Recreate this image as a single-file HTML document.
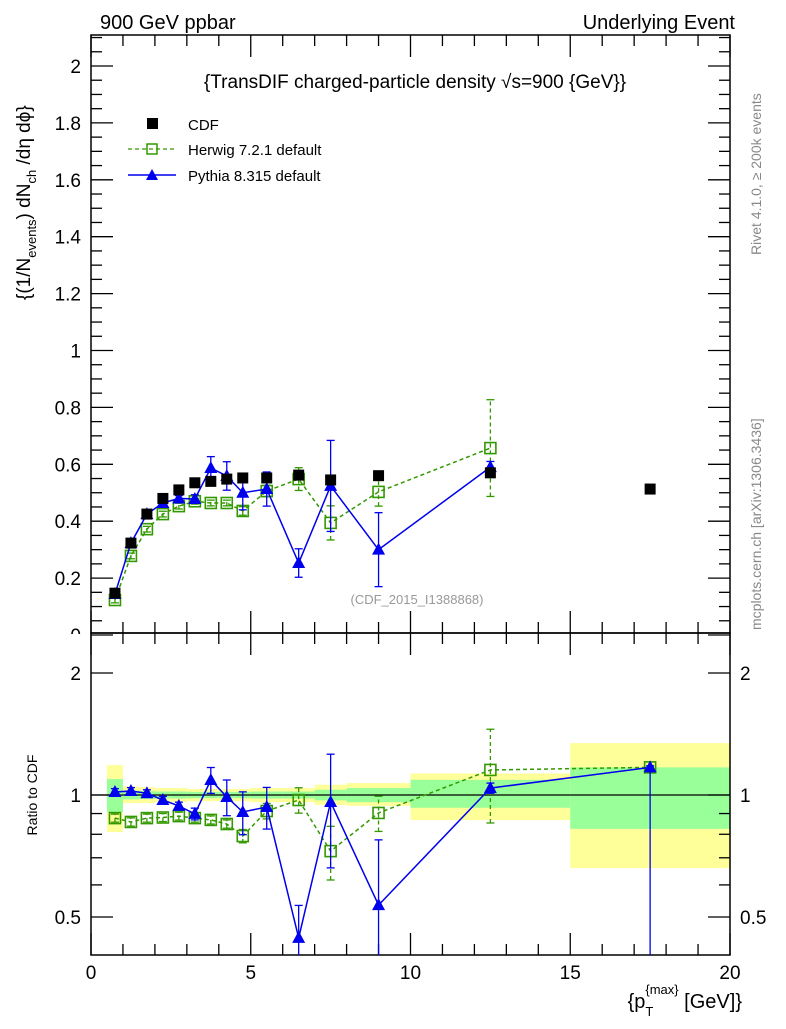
<!DOCTYPE html>
<html><head><meta charset="utf-8"><style>
body{margin:0;background:#fff;width:786px;height:1024px;overflow:hidden;font-family:"Liberation Sans",sans-serif}
svg text{font-family:"Liberation Sans","DejaVu Sans",sans-serif}
</style></head><body>
<svg id="c" width="786" height="1024" viewBox="0 0 786 1024" xmlns="http://www.w3.org/2000/svg">
<text x="100" y="29" font-size="20">900 GeV ppbar</text>
<text x="735" y="29" font-size="20" text-anchor="end">Underlying Event</text>
<text x="415" y="88" font-size="19" text-anchor="middle">{TransDIF charged-particle density √s=900 {GeV}}</text>
<text transform="translate(30,300) rotate(-90)" font-size="19">{(1/N<tspan font-size="13" dy="6">events</tspan><tspan dy="-6">) dN</tspan><tspan font-size="13" dy="6">ch</tspan><tspan dy="-6"> /dη  dϕ}</tspan></text>
<text transform="translate(37,795) rotate(-90)" font-size="14" text-anchor="middle">Ratio to CDF</text>
<text x="742" y="1008" font-size="20" text-anchor="end">{p<tspan font-size="13" dy="8">T</tspan><tspan font-size="13" dy="-22" dx="-8">{max}</tspan><tspan dy="14"> [GeV]}</tspan></text>
<text transform="translate(761,255) rotate(-90)" font-size="14" fill="#888">Rivet 4.1.0, ≥ 200k events</text>
<text transform="translate(761,630) rotate(-90)" font-size="14" fill="#888">mcplots.cern.ch [arXiv:1306.3436]</text>
<text x="417" y="604" font-size="13" fill="#999" text-anchor="middle">(CDF_2015_I1388868)</text>
<g id="legend">
<rect x="147" y="118" width="11" height="11" fill="#000"/>
<text x="188" y="130" font-size="15">CDF</text>
<line x1="128" y1="149" x2="176" y2="149" stroke="#339900" stroke-width="1.3" stroke-dasharray="4,3"/>
<rect x="147" y="144" width="10" height="10" fill="none" stroke="#339900" stroke-width="1.5"/>
<text x="188" y="155" font-size="15">Herwig 7.2.1 default</text>
<line x1="128" y1="175" x2="176" y2="175" stroke="#0000ee" stroke-width="1.5"/>
<path d="M152,169 L158,180 L146,180 Z" fill="#0000ee"/>
<text x="188" y="181" font-size="15">Pythia 8.315 default</text>
</g>
</svg>
<script>
const xs=[0.75,1.25,1.75,2.25,2.75,3.25,3.75,4.25,4.75,5.5,6.5,7.5,9,12.5,17.5];
const edges=[0.5,1,1.5,2,2.5,3,3.5,4,4.5,5,6,7,8,10,15,20];
const cdf=[0.147,0.323,0.425,0.48,0.51,0.535,0.54,0.548,0.552,0.552,0.562,0.545,0.56,0.57,0.513];
const herwig=[0.123,0.278,0.372,0.425,0.453,0.47,0.464,0.464,0.436,0.506,0.548,0.394,0.503,0.657];
const herwigErr=[0.01,0.01,0.01,0.01,0.01,0.01,0.01,0.01,0.015,0.02,0.04,0.06,0.05,0.17];
const pythia=[0.144,0.323,0.425,0.464,0.48,0.478,0.587,0.559,0.5,0.513,0.253,0.524,0.30,0.59];
const pythiaErr=[0.01,0.01,0.01,0.01,0.01,0.015,0.04,0.05,0.06,0.06,0.05,0.16,0.13,0.02];
const herwigRatio=[0.877,0.858,0.877,0.88,0.887,0.877,0.868,0.848,0.792,0.913,0.972,0.727,0.903,1.153,1.17];
const herwigRatioErr=[0.02,0.02,0.02,0.02,0.02,0.02,0.02,0.02,0.03,0.04,0.07,0.11,0.09,0.3,0.01];
const pythiaRatio=[1.017,1.023,1.01,0.972,0.94,0.898,1.089,0.989,0.908,0.934,0.444,0.961,0.535,1.04,1.17];
const pythiaRatioErr=[0.02,0.02,0.02,0.02,0.02,0.03,0.08,0.1,0.11,0.11,0.09,0.3,0.24,0.03,0.9];
const pythiaRatioErrUp=[0.02,0.02,0.02,0.02,0.02,0.03,0.08,0.1,0.11,0.11,0.09,0.3,0.24,0.03,0.01];
const bandYellowHi=[1.185,1.05,1.045,1.04,1.04,1.035,1.035,1.035,1.035,1.04,1.04,1.06,1.07,1.13,1.343];
const bandYellowLo=[0.81,0.955,0.955,0.96,0.96,0.965,0.965,0.965,0.965,0.96,0.96,0.945,0.94,0.867,0.66];
const bandGreenHi=[1.095,1.025,1.022,1.02,1.02,1.018,1.018,1.018,1.018,1.02,1.02,1.03,1.04,1.09,1.17];
const bandGreenLo=[0.908,0.975,0.978,0.98,0.98,0.982,0.982,0.982,0.982,0.98,0.98,0.97,0.96,0.93,0.825];
const mainTicks=[0,0.2,0.4,0.6,0.8,1,1.2,1.4,1.6,1.8,2];
const mainTickLabels=["0","0.2","0.4","0.6","0.8","1","1.2","1.4","1.6","1.8","2"];
const xTicks=[0,5,10,15,20];
const xTickLabels=["0","5","10","15","20"];
const ratioTicks=[0.5,1,2];
const ratioTickLabels=["0.5","1","2"];

const svg=document.getElementById('c');
const NS='http://www.w3.org/2000/svg';
const L=91,R=730,T1=35,B1=633,B2=955;
const X=v=>L+(v/20)*(R-L);
const Y=v=>635-v*284.5;
const YR=v=>795-122*Math.log2(v);
function mk(tag,attrs,parent){const e=document.createElementNS(NS,tag);for(const k in attrs)e.setAttribute(k,attrs[k]);(parent||svg).appendChild(e);return e;}
const clipDef=mk('defs',{});
const c1=mk('clipPath',{id:'cp1'},clipDef);mk('rect',{x:L,y:T1,width:R-L,height:B1-T1},c1);
const c2=mk('clipPath',{id:'cp2'},clipDef);mk('rect',{x:L,y:B1,width:R-L,height:B2-B1},c2);
const c3=mk('clipPath',{id:'cp3'},clipDef);mk('rect',{x:0,y:0,width:90,height:B1+1},c3);

const gb=mk('g',{'clip-path':'url(#cp2)'});


for(let i=0;i<xs.length;i++){
 const x0=X(edges[i]),x1=X(edges[i+1]);
 const y=mk('rect',{x:x0,y:YR(bandYellowHi[i]),width:x1-x0,height:YR(bandYellowLo[i])-YR(bandYellowHi[i]),fill:'#ffff99'},gb);
 
 
 const g=mk('rect',{x:x0,y:YR(bandGreenHi[i]),width:x1-x0,height:YR(bandGreenLo[i])-YR(bandGreenHi[i]),fill:'#99ff99'},gb);
 
 
}
mk('line',{x1:L,x2:R,y1:YR(1),y2:YR(1),stroke:'#000','stroke-width':1.3});

const f1=mk('rect',{x:L,y:T1,width:R-L,height:B1-T1,fill:'none',stroke:'#000','stroke-width':1.5});


const f2=mk('rect',{x:L,y:B1,width:R-L,height:B2-B1,fill:'none',stroke:'#000','stroke-width':1.5});



for(let v=0;v<=20;v++){
 const major=v%5===0;
 for(const [yb,yt] of [[B1,T1],[B2,B1]]){
  mk('line',{x1:X(v),x2:X(v),y1:yb,y2:yb-(major?22:11),stroke:'#000','stroke-width':1.3});
  mk('line',{x1:X(v),x2:X(v),y1:yt,y2:yt+(major?22:11),stroke:'#000','stroke-width':1.3});
 }
}
xTicks.forEach((v,i)=>{const t=mk('text',{x:X(v),y:979,'font-size':19,'text-anchor':'middle'});t.textContent=xTickLabels[i];
 
 });
for(let k=0;k<=42;k++){const v=k*0.05;const yy=Y(v);if(yy<T1||yy>B1+3)continue;const major=k%4===0;
 mk('line',{x1:L,x2:L+(major?22:11),y1:yy,y2:yy,stroke:'#000','stroke-width':1.3});
 mk('line',{x1:R,x2:R-(major?22:11),y1:yy,y2:yy,stroke:'#000','stroke-width':1.3});}
const gl=mk('g',{'clip-path':'url(#cp3)'});
mainTicks.forEach((v,i)=>{const t=mk('text',{x:L-10,y:Y(v)+7,'font-size':19,'text-anchor':'end'},gl);t.textContent=mainTickLabels[i];
 
 });
[0.5,0.6,0.7,0.8,0.9,1,2].forEach(v=>{const major=(v===0.5||v===1||v===2);const yy=YR(v);
 mk('line',{x1:L,x2:L+(major?22:11),y1:yy,y2:yy,stroke:'#000','stroke-width':1.3});
 mk('line',{x1:R,x2:R-(major?22:11),y1:yy,y2:yy,stroke:'#000','stroke-width':1.3});});
ratioTicks.forEach((v,i)=>{for(const [x,a] of [[L-10,'end'],[R+10,'start']]){const t=mk('text',{x:x,y:YR(v)+7,'font-size':19,'text-anchor':a});t.textContent=ratioTickLabels[i];
 
 }});

function series(vals,errs,errsUp,yf,color,dash,marker,clip,name){
 const g=mk('g',{'clip-path':'url(#'+clip+')'});
 
 
 const pts=vals.map((v,i)=>X(xs[i])+','+yf(v)).join(' ');
 mk('polyline',{points:pts,fill:'none',stroke:color,'stroke-width':1.5,'stroke-dasharray':dash},g);
 vals.forEach((v,i)=>{const x=X(xs[i]);const lo=Math.max(v-errs[i],0.01),hi=v+errsUp[i];
  mk('line',{x1:x,x2:x,y1:yf(lo),y2:yf(hi),stroke:color,'stroke-width':1.3,'stroke-dasharray':dash},g);
  mk('line',{x1:x-4,x2:x+4,y1:yf(lo),y2:yf(lo),stroke:color,'stroke-width':1.3},g);
  mk('line',{x1:x-4,x2:x+4,y1:yf(hi),y2:yf(hi),stroke:color,'stroke-width':1.3},g);
  const y=yf(v);let m;
  if(marker==='sq'){m=mk('rect',{x:x-5.5,y:y-5.5,width:11,height:11,fill:'#fff','fill-opacity':0,stroke:color,'stroke-width':1.6},g);}
  else{m=mk('path',{d:`M${x},${y-7}L${x+6.5},${y+5}L${x-6.5},${y+5}Z`,fill:color},g);}
  
  
 });
}
series(herwig,herwigErr,herwigErr,Y,'#339900','4,3','sq','cp1','herwig-series');
series(pythia,pythiaErr,pythiaErr,Y,'#0000ee','','tri','cp1','pythia-series');
cdf.forEach((v,i)=>{const r=mk('rect',{x:X(xs[i])-5.5,y:Y(v)-5.5,width:11,height:11,fill:'#000'});
 
 });
series(herwigRatio,herwigRatioErr,herwigRatioErr,YR,'#339900','4,3','sq','cp2','herwig-ratio-series');
series(pythiaRatio,pythiaRatioErr,pythiaRatioErrUp,YR,'#0000ee','','tri','cp2','pythia-ratio-series');
</script>
</body></html>
